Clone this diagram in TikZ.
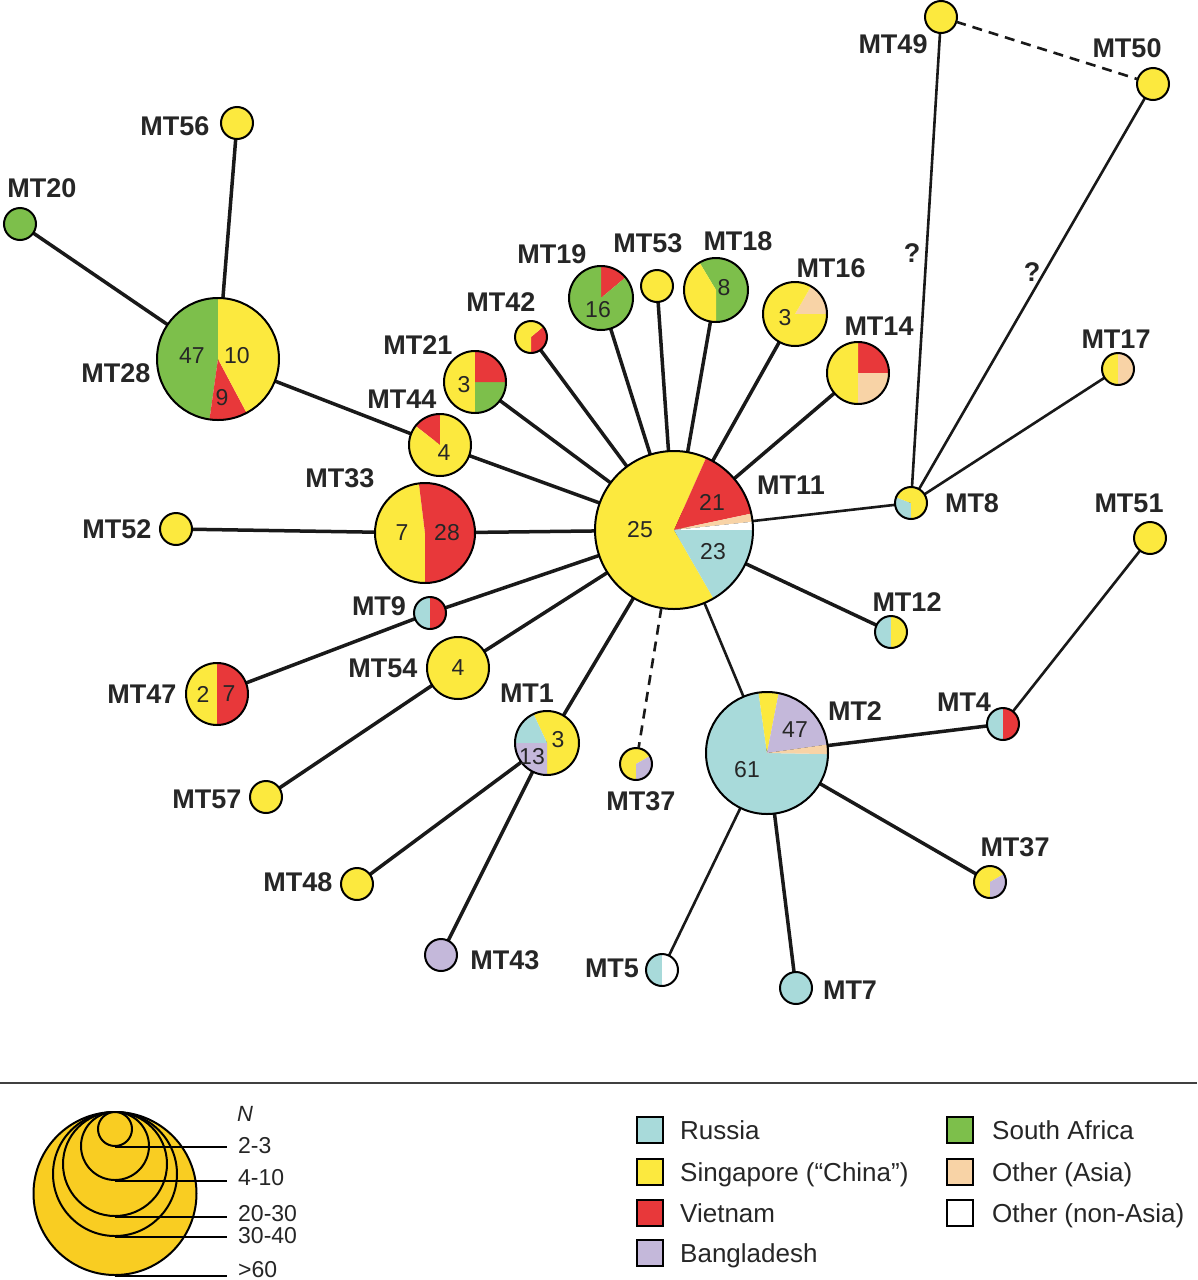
\documentclass[tikz,border=0pt]{standalone}
\usepackage{fontspec}
\setmainfont{Liberation Sans}
\usetikzlibrary{backgrounds}
\definecolor{cyR}{HTML}{A8DADA}
\definecolor{yeS}{HTML}{FCE93E}
\definecolor{reV}{HTML}{E8383A}
\definecolor{laB}{HTML}{C4B8DA}
\definecolor{grA}{HTML}{7DBF4B}
\definecolor{peO}{HTML}{F8D3A6}
\definecolor{goL}{HTML}{F9CD22}
\newcommand\pienode[5]{%
  \node[circle,inner sep=0pt,outer sep=0pt,minimum size=2*#4pt] (#1) at (#2,-#3) {};
  \foreach \sa/\sb/\sc in {#5}{\fill[\sc] (#2,-#3) -- ++(\sa:#4pt) arc[start angle=\sa,end angle=\sb,radius=#4pt] -- cycle;}
  \draw[line width=2pt] (#2,-#3) circle[radius=#4pt];
}
\tikzset{
  lbl/.style={font=\fontsize{27}{30}\selectfont\bfseries, text=black!85, inner sep=0pt},
  num/.style={font=\fontsize{23}{26}\selectfont, text=black!85, inner sep=0pt},
  lnk/.style={line width=3.5pt, black!90},
  lnkt/.style={line width=2.6pt, black!90},
  lnkd/.style={line width=2.6pt, black!90, dash pattern=on 10pt off 7pt},
  legsq/.style={draw, line width=2pt, minimum size=26pt, inner sep=0pt},
  legtxt/.style={font=\fontsize{23}{26}\selectfont, text=black!85, inner sep=0pt, anchor=base west},
  keytxt/.style={font=\fontsize{26}{29}\selectfont, text=black!85, inner sep=0pt, anchor=base west},
  legcirc/.style={circle, draw, line width=2pt, fill=goL, inner sep=0pt}
}
\begin{document}
\begin{tikzpicture}[x=1pt,y=1pt]
\useasboundingbox (0,0) rectangle (1197,-1280);
\begin{pgfonlayer}{background}
\fill[white] (0,0) rectangle (1197,-1280);
\end{pgfonlayer}

% ---- pie nodes ----
\pienode{MT11}{674}{530}{79}{66/300/yeS, 12/66/reV, 6/12/peO, 0/6/white, -60/0/cyR}
\pienode{MT28}{218}{359}{61}{90/262/grA, 262/298/reV, 298/450/yeS}
\pienode{MT2}{767}{753}{61}{98/359/cyR, 79/98/yeS, 8/79/laB, -1/8/peO}
\pienode{MT1}{547}{743}{32}{-90/115/yeS, 115/180/cyR, 180/270/laB}
\pienode{MT37a}{636}{764}{16}{30/270/yeS, -90/30/laB}
\pienode{MT37b}{990}{882}{16}{30/270/yeS, -90/30/laB}
\pienode{MT12}{891}{632}{16}{90/270/cyR, -90/90/yeS}
\pienode{MT4}{1003}{724}{16}{90/270/cyR, -90/90/reV}
\pienode{MT9}{430}{613}{16}{90/270/cyR, -90/90/reV}
\pienode{MT17}{1118}{369}{16}{90/270/yeS, -90/90/peO}
\pienode{MT5}{662}{970}{16}{90/270/cyR, -90/90/white}
\pienode{MT47}{217}{694}{31}{90/270/yeS, -90/90/reV}
\pienode{MT33}{425}{533}{50}{97/270/yeS, -90/97/reV}
\pienode{MT44}{440}{445}{31}{90/142/reV, 142/450/yeS}
\pienode{MT21}{475}{382}{31}{90/270/yeS, -90/0/grA, 0/90/reV}
\pienode{MT19}{601}{298}{32}{40/90/reV, 90/400/grA}
\pienode{MT53}{657}{286}{16}{0/360/yeS}
\pienode{MT18}{716}{290}{32}{-90/121/grA, 121/270/yeS}
\pienode{MT16}{795}{314}{32}{0/60/peO, 60/360/yeS}
\pienode{MT14}{858}{373}{31}{0/90/reV, 90/270/yeS, 270/360/peO}
\pienode{MT42}{531}{337}{16}{-90/40/reV, 40/270/yeS}
\pienode{MT8}{911}{503}{16}{159/270/cyR, -90/159/yeS}
\pienode{MT54}{458}{668}{31}{0/360/yeS}
\pienode{MT7}{796}{988}{16}{0/360/cyR}
\pienode{MT43}{441}{955}{16}{0/360/laB}
\pienode{MT48}{357}{884}{16}{0/360/yeS}
\pienode{MT57}{266}{797}{16}{0/360/yeS}
\pienode{MT52}{176}{529}{16}{0/360/yeS}
\pienode{MT20}{20}{224}{16}{0/360/grA}
\pienode{MT56}{237}{123}{16}{0/360/yeS}
\pienode{MT49}{941}{17}{16}{0/360/yeS}
\pienode{MT50}{1153}{84}{16}{0/360/yeS}
\pienode{MT51}{1150}{538}{16}{0/360/yeS}

% ---- numbers in pies ----
\node[num] (n11a) at (640,-530) {25};
\node[num] (n11b) at (712,-502) {21};
\node[num] (n11c) at (713,-552) {23};
\node[num] (n28a) at (192,-356) {47};
\node[num] (n28b) at (237,-356) {10};
\node[num] (n28c) at (222,-398) {9};
\node[num] (n2a) at (795,-730) {47};
\node[num] (n2b) at (747,-770) {61};
\node[num] (n1a) at (558,-740) {3};
\node[num] (n1b) at (532,-757) {13};
\node[num] (n47a) at (203,-694) {2};
\node[num] (n47b) at (229,-694) {7};
\node[num] (n33a) at (402,-533) {7};
\node[num] (n33b) at (447,-533) {28};
\node[num] (n44) at (444,-453) {4};
\node[num] (n21) at (464,-385) {3};
\node[num] (n19) at (598,-310) {16};
\node[num] (n18) at (724,-288) {8};
\node[num] (n16) at (785,-318) {3};
\node[num] (n54) at (458,-668) {4};

% ---- connectors ----
\begin{pgfonlayer}{background}
\draw[lnk] (MT20.center) -- (MT28.center);
\draw[lnk] (MT56.center) -- (MT28.center);
\draw[lnk] (MT28.center) -- (MT44.center);
\draw[lnk] (MT44.center) -- (MT11.center);
\draw[lnk] (MT21.center) -- (MT11.center);
\draw[lnk] (MT42.center) -- (MT11.center);
\draw[lnk] (MT19.center) -- (MT11.center);
\draw[lnk] (MT53.center) -- (MT11.center);
\draw[lnk] (MT18.center) -- (MT11.center);
\draw[lnk] (MT16.center) -- (MT11.center);
\draw[lnk] (MT14.center) -- (MT11.center);
\draw[lnkt] (MT11.center) -- (MT8.center);
\draw[lnkt] (MT8.center) -- (MT49.center);
\draw[lnkt] (MT8.center) -- (MT50.center);
\draw[lnkt] (MT8.center) -- (MT17.center);
\draw[lnk] (MT52.center) -- (MT33.center);
\draw[lnk] (MT33.center) -- (MT11.center);
\draw[lnk] (MT47.center) -- (MT9.center);
\draw[lnk] (MT9.center) -- (MT11.center);
\draw[lnk] (MT57.center) -- (MT54.center);
\draw[lnk] (MT54.center) -- (MT11.center);
\draw[lnk] (MT1.center) -- (MT11.center);
\draw[lnk] (MT48.center) -- (MT1.center);
\draw[lnk] (MT43.center) -- (MT1.center);
\draw[lnk] (MT11.center) -- (MT12.center);
\draw[lnkt] (MT11.center) -- (MT2.center);
\draw[lnk] (MT2.center) -- (MT4.center);
\draw[lnkt] (MT4.center) -- (MT51.center);
\draw[lnk] (MT2.center) -- (MT37b.center);
\draw[lnkt] (MT2.center) -- (MT5.center);
\draw[lnk] (MT2.center) -- (MT7.center);
\end{pgfonlayer}
\draw[lnkd] (MT11) -- (MT37a);
\draw[lnkd] (MT49) -- (MT50);

% ---- node labels ----
\node[lbl] (L49) at (893,-44) {MT49};
\node[lbl] (L50) at (1127,-48) {MT50};
\node[lbl] (L56) at (175,-126) {MT56};
\node[lbl] (L20) at (42,-188) {MT20};
\node[lbl] (L28) at (116,-373) {MT28};
\node[lbl] (L19) at (552,-254) {MT19};
\node[lbl] (L53) at (648,-243) {MT53};
\node[lbl] (L18) at (738,-241) {MT18};
\node[lbl] (L16) at (831,-268) {MT16};
\node[lbl] (L42) at (501,-302) {MT42};
\node[lbl] (L21) at (418,-345) {MT21};
\node[lbl] (L14) at (879,-326) {MT14};
\node[lbl] (L17) at (1116,-339) {MT17};
\node[lbl] (L44) at (402,-399) {MT44};
\node[lbl] (L11) at (791,-485) {MT11};
\node[lbl] (L8) at (972,-503) {MT8};
\node[lbl] (L51) at (1129,-503) {MT51};
\node[lbl] (L52) at (117,-529) {MT52};
\node[lbl] (L33) at (340,-478) {MT33};
\node[lbl] (L12) at (907,-602) {MT12};
\node[lbl] (L9) at (379,-606) {MT9};
\node[lbl] (L54) at (383,-668) {MT54};
\node[lbl] (L47) at (142,-694) {MT47};
\node[lbl] (L1) at (527,-693) {MT1};
\node[lbl] (L2) at (855,-711) {MT2};
\node[lbl] (L4) at (964,-702) {MT4};
\node[lbl] (L57) at (207,-799) {MT57};
\node[lbl] (L37a) at (641,-801) {MT37};
\node[lbl] (L37b) at (1015,-847) {MT37};
\node[lbl] (L48) at (298,-882) {MT48};
\node[lbl] (L43) at (505,-960) {MT43};
\node[lbl] (L5) at (612,-968) {MT5};
\node[lbl] (L7) at (850,-990) {MT7};
\node[lbl] (Q1) at (912,-253) {?};
\node[lbl] (Q2) at (1032,-272) {?};

% ---- legend ----
\draw[line width=2pt, black!75] (0,-1083) -- (1197,-1083);
\node[legcirc, minimum size=163pt] (C5) at (115,-1193.5) {};
\node[legcirc, minimum size=124pt] (C4) at (115,-1174) {};
\node[legcirc, minimum size=104pt] (C3) at (115,-1164) {};
\node[legcirc, minimum size=68pt] (C2) at (115,-1146) {};
\node[legcirc, minimum size=34pt] (C1) at (115,-1129) {};
\coordinate (LX) at (227,0);
\draw[line width=2pt] (C1.south) -- (C1.south -| LX);
\draw[line width=2pt] (C2.south) -- (C2.south -| LX);
\draw[line width=2pt] (C3.south) -- (C3.south -| LX);
\draw[line width=2pt] (C4.south) -- (C4.south -| LX);
\draw[line width=2pt] (C5.south) -- (C5.south -| LX);
\node[legtxt, font=\fontsize{22}{24}\selectfont\itshape] (tN) at (237,-1121) {N};
\node[legtxt] (t1) at (238,-1153) {2-3};
\node[legtxt] (t2) at (238,-1185) {4-10};
\node[legtxt] (t3) at (238,-1221) {20-30};
\node[legtxt] (t4) at (238,-1243) {30-40};
\node[legtxt] (t5) at (238,-1277) {>60};

\node[legsq, fill=cyR] (sq1) at (650,-1130) {};
\node[legsq, fill=yeS] (sq2) at (650,-1172) {};
\node[legsq, fill=reV] (sq3) at (650,-1213) {};
\node[legsq, fill=laB] (sq4) at (650,-1253) {};
\node[legsq, fill=grA] (sq5) at (960,-1130) {};
\node[legsq, fill=peO] (sq6) at (960,-1172) {};
\node[legsq, fill=white] (sq7) at (960,-1213) {};
\node[keytxt] (tx1) at (680,-1139.5) {Russia};
\node[keytxt] (tx2) at (680,-1181.5) {Singapore (“China”)};
\node[keytxt] (tx3) at (680,-1222.5) {Vietnam};
\node[keytxt] (tx4) at (680,-1262.5) {Bangladesh};
\node[keytxt] (tx5) at (992,-1139.5) {South Africa};
\node[keytxt] (tx6) at (992,-1181.5) {Other (Asia)};
\node[keytxt] (tx7) at (992,-1222.5) {Other (non-Asia)};
\end{tikzpicture}
\end{document}
